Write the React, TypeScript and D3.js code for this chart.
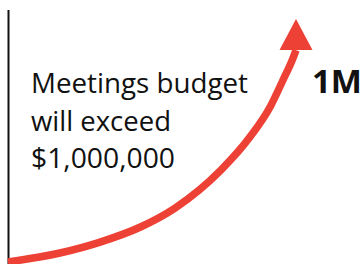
import React from 'react';
import * as d3 from 'd3';

// growth curve, x in % of timeline, y in dollars
const timeline = [0, 18, 32, 46, 58, 74, 84, 91, 95.5, 99, 100];
const budget = [0, 37000, 82000, 144000, 222000, 379000, 514000, 638000, 749000, 840000, 872000];
const target = { x: 100, y: 1000000, label: '1M' };
const message = ['Meetings budget', 'will exceed', '$1,000,000'];
const messageWidths = [217, 140, 144];

const W = 363;
const H = 264;

export default function App() {
  const x = d3.scaleLinear().domain([0, 100]).range([8, 296]);
  const y = d3.scaleLinear().domain([0, 1000000]).range([262, 19]);

  const pts: [number, number][] = timeline.map((t, i) => [x(t), y(budget[i])]);
  const line = d3.line().curve(d3.curveMonotoneX);

  // arrow head
  const [bx, by] = pts[pts.length - 1];
  const tx = x(target.x);
  const ty = y(target.y);
  const len = Math.hypot(tx - bx, ty - by);
  const ux = (tx - bx) / len;
  const uy = (ty - by) / len;
  const hw = 16.5;
  const head = [
    [tx, ty],
    [bx - uy * hw, by + ux * hw],
    [bx + uy * hw, by - ux * hw],
  ];

  const red = '#EE4136';
  const font = '"Open Sans", Lato, sans-serif';

  return (
    <svg width={W} height={H} style={{ position: 'absolute', left: 0, top: 0, background: '#fff' }}>
      <line x1={8.5} x2={8.5} y1={10} y2={H} stroke="#111" strokeWidth={2} />
      <path d={line(pts) || ''} fill="none" stroke={red} strokeWidth={7.5} />
      <polygon points={head.map((p) => p.join(',')).join(' ')} fill={red} />
      {message.map((m, i) => (
        <text
          key={i}
          x={31}
          y={93 + i * 37.5}
          fontFamily={font}
          fontSize={27}
          fill="#111"
          textLength={messageWidths[i]}
          lengthAdjust="spacingAndGlyphs"
        >
          {m}
        </text>
      ))}
      <text x={312} y={93} fontFamily={font} fontSize={33} fontWeight="bold" fill="#111">
        {target.label}
      </text>
    </svg>
  );
}
